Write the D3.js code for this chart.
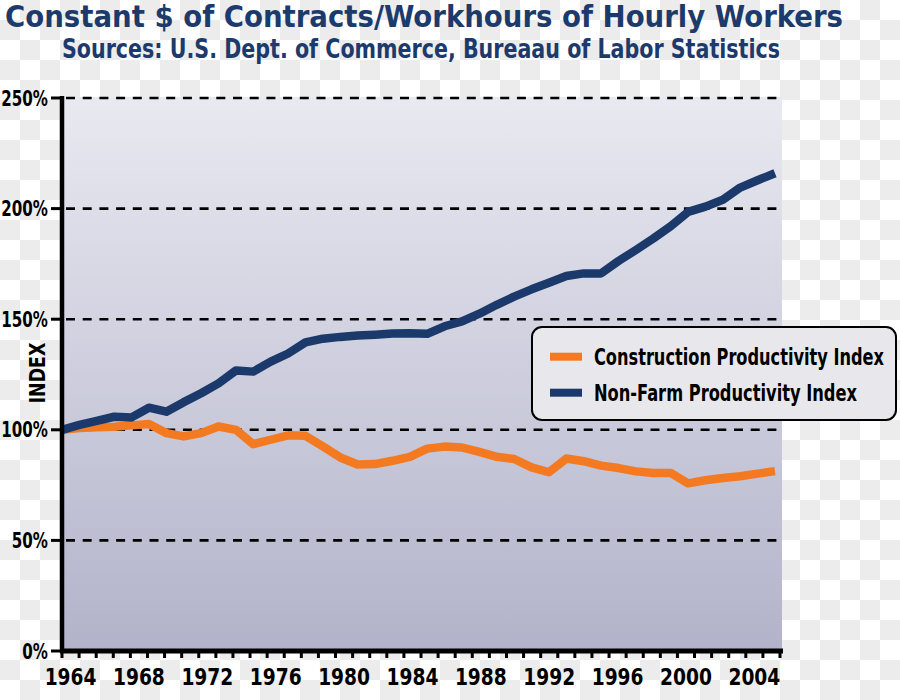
<!DOCTYPE html>
<html><head><meta charset="utf-8">
<script src="https://cdn.jsdelivr.net/npm/d3@7/dist/d3.min.js"></script>
<style>html,body{margin:0;padding:0;background:#fff}svg{display:block}</style>
</head><body>
<script>
const years = [1964,1965,1966,1967,1968,1969,1970,1971,1972,1973,1974,1975,1976,1977,1978,1979,1980,1981,1982,1983,1984,1985,1986,1987,1988,1989,1990,1991,1992,1993,1994,1995,1996,1997,1998,1999,2000,2001,2002,2003,2004,2005];
const construction = [100,100.8,101.2,101.4,102,102.6,98.5,97,98.5,101.5,100,93.5,95.5,97.5,97.3,92.5,87.5,84.3,84.5,86,87.8,91.5,92.4,92,90,87.8,86.8,83,80.8,87,85.8,83.8,82.7,81.2,80.5,80.5,75.8,77.2,78.2,79,80.2,81.3];
const nonfarm = [100,102.2,104,105.9,105.6,110,108.2,112.5,116.5,121,126.8,126.3,130.8,134.5,139.5,141.2,142,142.6,143,143.5,143.7,143.4,146.8,149,152.5,156.5,160.2,163.5,166.5,169.5,170.7,170.7,176.3,181.3,186.5,192,198.5,200.9,204,209.5,212.8,216];
const xLabels = [1964,1968,1972,1976,1980,1984,1988,1992,1996,2000,2004];
const yTicks = [0,50,100,150,200,250];
const seriesNames = ["Construction Productivity Index","Non-Farm Productivity Index"];
const seriesColors = ["#f47a22","#1b3a6b"];
const titleText = "Constant $ of Contracts/Workhours of Hourly Workers";
const subtitleText = "Sources: U.S. Dept. of Commerce, Bureaau of Labor Statistics";

const W = 900, H = 700;
const L = 62, R = 782, T = 97, B = 651;
const FONT = "'Liberation Sans Narrow','DejaVu Sans Condensed','Roboto Condensed',sans-serif";

const svg = d3.select("body").append("svg").attr("width", W).attr("height", H);
const defs = svg.append("defs");

function condense(sel, factor) {
  sel.each(function() {
    const w = this.getComputedTextLength();
    d3.select(this).attr("textLength", w * factor).attr("lengthAdjust", "spacingAndGlyphs");
  });
}

// checkerboard background
const pat = defs.append("pattern").attr("id","chk").attr("width",40).attr("height",40).attr("patternUnits","userSpaceOnUse");
pat.append("rect").attr("width",40).attr("height",40).attr("fill","#ffffff");
pat.append("rect").attr("x",20).attr("y",0).attr("width",20).attr("height",20).attr("fill","#ececec");
pat.append("rect").attr("x",0).attr("y",20).attr("width",20).attr("height",20).attr("fill","#ececec");
svg.append("rect").attr("width",W).attr("height",H).attr("fill","url(#chk)");

const grad = defs.append("linearGradient").attr("id","bg").attr("x1",0).attr("y1",0).attr("x2",0).attr("y2",1);
grad.append("stop").attr("offset","0%").attr("stop-color","#e9e9f1");
grad.append("stop").attr("offset","100%").attr("stop-color","#b2b3ca");
svg.append("rect").attr("x",L).attr("y",T).attr("width",R-L).attr("height",B-T).attr("fill","url(#bg)");

const y = d3.scaleLinear().domain([0,250]).range([B, 98]);
const xData = d3.scaleLinear().domain([1964,2005]).range([L, 775]);
const xBand = d3.scaleBand().domain(years).range([L, 780]);

// gridlines
svg.append("g").selectAll("line").data(yTicks.filter(d=>d>0)).join("line")
  .attr("x1",L+4).attr("x2",R).attr("y1",d=>y(d)).attr("y2",d=>y(d))
  .attr("stroke","#000").attr("stroke-width",2.6).attr("stroke-dasharray","9,7.7");

// y axis ticks and labels
const yg = svg.append("g");
yg.selectAll("line").data(yTicks).join("line")
  .attr("x1",51).attr("x2",L).attr("y1",d=>y(d)).attr("y2",d=>y(d))
  .attr("stroke","#000").attr("stroke-width",3);
yg.selectAll("text").data(yTicks).join("text")
  .attr("x",48).attr("y",d=>y(d)).attr("dy","0.36em")
  .attr("text-anchor","end").attr("font-family",FONT).attr("font-weight","bold")
  .attr("font-size",21).attr("fill","#000").text(d=>d+"%")
  .call(condense, 0.8);

// lines
const lineGen = vals => d3.line().x((d,i)=>xData(years[i])).y(d=>y(d))(vals);
[construction, nonfarm].forEach((vals,k)=>{
  svg.append("path").attr("d", lineGen(vals)).attr("fill","none")
    .attr("stroke", seriesColors[k]).attr("stroke-width",8.5)
    .attr("stroke-linejoin","round").attr("stroke-linecap","butt");
});

// axes lines
svg.append("line").attr("x1",L).attr("x2",L).attr("y1",T-1).attr("y2",B+2).attr("stroke","#000").attr("stroke-width",4.5);
svg.append("line").attr("x1",L-2).attr("x2",R+1).attr("y1",B).attr("y2",B).attr("stroke","#000").attr("stroke-width",5);

// x ticks at band boundaries
const bounds = years.map(d=>xBand(d)).concat([xBand(years[years.length-1]) + xBand.bandwidth()]);
svg.append("g").selectAll("line").data(bounds).join("line")
  .attr("x1",d=>d).attr("x2",d=>d).attr("y1",B).attr("y2",B+7)
  .attr("stroke","#000").attr("stroke-width",3);

// x labels at band centres
svg.append("g").selectAll("text").data(xLabels).join("text")
  .attr("x",d=>xBand(d)+xBand.bandwidth()/2).attr("y",685)
  .attr("text-anchor","middle").attr("font-family",FONT).attr("font-weight","bold")
  .attr("font-size",23).attr("fill","#000").text(d=>d)
  .call(condense, 0.9);

// y title
svg.append("text").attr("transform","translate(45,373) rotate(-90)")
  .attr("text-anchor","middle").attr("font-family",FONT).attr("font-weight","bold")
  .attr("font-size",21).attr("fill","#000").text("INDEX")
  .call(condense, 0.92);

// titles
svg.append("text").attr("x",5).attr("y",27).attr("font-family",FONT).attr("font-weight","bold")
  .attr("font-size",31).attr("fill","#1d3a6c").attr("textLength",838).attr("lengthAdjust","spacingAndGlyphs").text(titleText);
svg.append("text").attr("x",62).attr("y",58).attr("font-family",FONT).attr("font-weight","bold")
  .attr("font-size",26).attr("fill","#1d3a6c").attr("textLength",718).attr("lengthAdjust","spacingAndGlyphs").text(subtitleText);

// legend
const lg = svg.append("g");
lg.append("rect").attr("x",532).attr("y",327).attr("width",364).attr("height",93).attr("rx",10).attr("ry",10)
  .attr("fill","#e8e8ec").attr("stroke","#000").attr("stroke-width",2);
const legLens = [290, 263];
seriesNames.forEach((n,k)=>{
  const cy = 356.7 + k*36;
  lg.append("rect").attr("x",550).attr("y",cy-4).attr("width",32).attr("height",8).attr("fill",seriesColors[k]);
  lg.append("text").attr("x",594).attr("y",cy+8).attr("font-family",FONT).attr("font-weight","bold")
    .attr("font-size",23).attr("fill","#000").attr("textLength",legLens[k]).attr("lengthAdjust","spacingAndGlyphs").text(n);
});
</script>
</body></html>
